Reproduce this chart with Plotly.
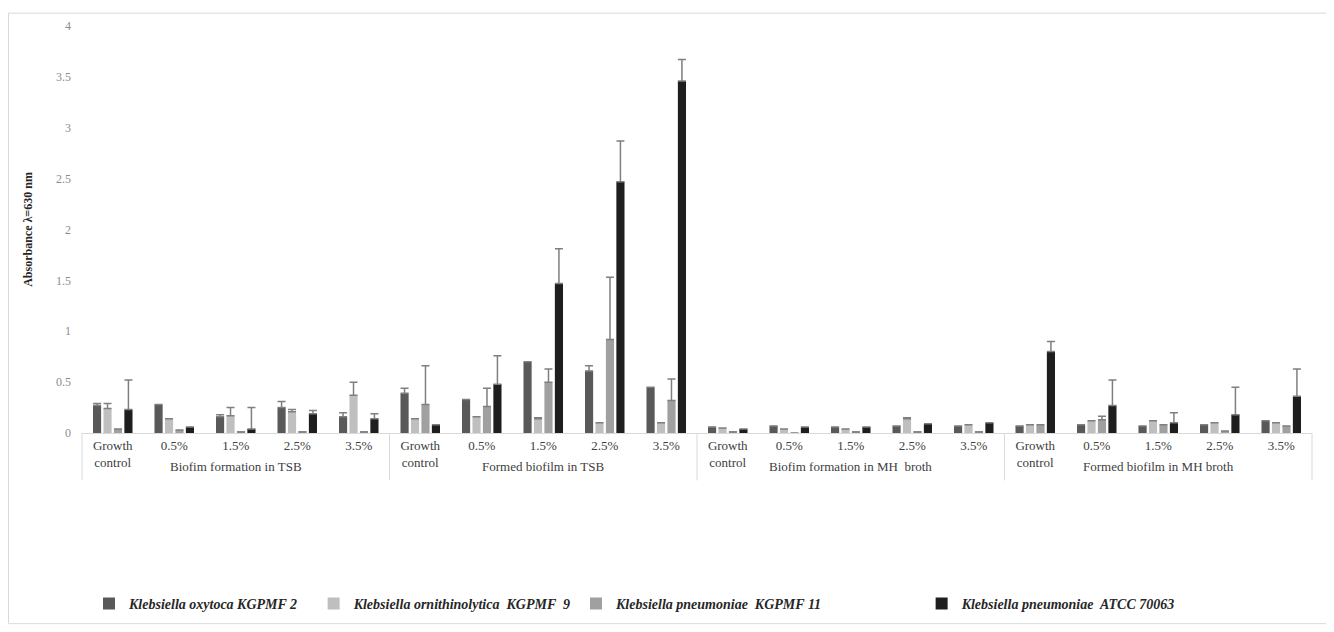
import plotly.graph_objects as go

groups = ["Biofim formation in TSB", "Formed biofilm in TSB",
          "Biofim formation in MH  broth", "Formed biofilm in MH broth"]
concentrations = ["Growth<br>control", "0.5%", "1.5%", "2.5%", "3.5%"]

series_names = [
    "Klebsiella oxytoca KGPMF 2",
    "Klebsiella ornithinolytica  KGPMF  9",
    "Klebsiella pneumoniae  KGPMF 11",
    "Klebsiella pneumoniae  ATCC 70063",
]
colors = ["#595959", "#bfbfbf", "#a0a0a0", "#1e1e1e"]

# values per series: 4 groups x 5 concentrations (flattened)
oxytoca = [0.27, 0.28, 0.16, 0.25, 0.16,
           0.39, 0.33, 0.70, 0.61, 0.45,
           0.06, 0.07, 0.06, 0.07, 0.07,
           0.07, 0.08, 0.07, 0.08, 0.12]
oxytoca_err = [0.02, 0.0, 0.02, 0.06, 0.04,
               0.05, 0.0, 0.0, 0.05, 0.0,
               0.0, 0.0, 0.0, 0.0, 0.0,
               0.0, 0.0, 0.0, 0.0, 0.0]
ornith = [0.24, 0.14, 0.17, 0.21, 0.37,
          0.14, 0.16, 0.14, 0.10, 0.10,
          0.05, 0.04, 0.04, 0.14, 0.08,
          0.08, 0.12, 0.12, 0.10, 0.10]
ornith_err = [0.05, 0.0, 0.08, 0.02, 0.13,
              0.0, 0.0, 0.01, 0.0, 0.0,
              0.0, 0.0, 0.0, 0.01, 0.0,
              0.0, 0.0, 0.0, 0.0, 0.0]
pneumo11 = [0.04, 0.03, 0.01, 0.01, 0.01,
            0.28, 0.26, 0.50, 0.92, 0.32,
            0.01, 0.0, 0.01, 0.01, 0.01,
            0.08, 0.13, 0.08, 0.02, 0.07]
pneumo11_err = [0.0, 0.0, 0.0, 0.0, 0.0,
                0.38, 0.18, 0.13, 0.61, 0.21,
                0.0, 0.0, 0.0, 0.0, 0.0,
                0.0, 0.035, 0.0, 0.0, 0.0]
atcc = [0.23, 0.06, 0.04, 0.19, 0.14,
        0.08, 0.48, 1.47, 2.47, 3.46,
        0.04, 0.06, 0.06, 0.09, 0.10,
        0.80, 0.27, 0.10, 0.18, 0.36]
atcc_err = [0.29, 0.0, 0.21, 0.03, 0.05,
            0.0, 0.28, 0.34, 0.40, 0.21,
            0.0, 0.0, 0.0, 0.0, 0.0,
            0.10, 0.25, 0.10, 0.27, 0.27]

values = [oxytoca, ornith, pneumo11, atcc]
errors = [oxytoca_err, ornith_err, pneumo11_err, atcc_err]

# unique category keys, with the concentration as the visible tick text
x_keys = [f"{g}|{c}" for g in groups for c in concentrations]
x_text = [c for _ in groups for c in concentrations]

# legend padding (non-breaking spaces) to reproduce the uneven spacing
legend_pad = [3, 0, 27, 0]

serif = "Liberation Serif, Times New Roman, serif"

fig = go.Figure()
for name, col, v, e, pad in zip(series_names, colors, values, errors, legend_pad):
    fig.add_trace(go.Bar(
        x=x_keys, y=v, name=name + "\u00a0" * pad,
        marker=dict(color=col, line=dict(width=0)),
        error_y=dict(type="data", symmetric=False, array=e,
                     arrayminus=[0] * len(e), color="#7f7f7f",
                     thickness=1.5, width=4),
    ))

W, H = 1326, 624
L, R, T, B = 74, 22, 18, 194
pw, ph = W - L - R, H - T - B

fig.update_layout(
    width=W, height=H,
    margin=dict(l=L, r=R, t=T, b=B),
    paper_bgcolor="white", plot_bgcolor="white",
    barmode="group", bargap=0.32, bargroupgap=0.22,
    font=dict(family=serif, size=13, color="#404040"),
    showlegend=True,
    legend=dict(orientation="h", x=(108 - 8 - L - 19) / pw, xanchor="left",
                y=-(613 - 10 - T - ph) / ph, yanchor="middle",
                font=dict(family=serif, size=14, color="#262626",
                          weight="bold", style="italic"),
                itemwidth=30, tracegroupgap=0),
    xaxis=dict(type="category", tickvals=x_keys, ticktext=x_text,
               showline=True, linecolor="#d9d9d9", linewidth=1,
               tickfont=dict(family=serif, size=13, color="#404040"),
               automargin=False, ticks="", showgrid=False),
    yaxis=dict(range=[0, 4], dtick=0.5, showgrid=False, zeroline=False,
               showline=False, automargin=False,
               tickfont=dict(family=serif, size=12, color="#8c8c8c"),
               ticklabelstandoff=10,
               title=dict(text="Absorbance λ=630 nm",
                          font=dict(family=serif, size=12, color="#262626",
                                    weight="bold"),
                          standoff=20)),
)

# group labels and dividers of the two-level category axis
n_groups = len(groups)
for i, g in enumerate(groups):
    fig.add_annotation(text=g, xref="paper", yref="paper",
                       x=(i + 0.5) / n_groups, y=-(470 - 436) / ph,
                       xanchor="center", yanchor="middle", showarrow=False,
                       font=dict(family=serif, size=13, color="#404040"))
for i in range(n_groups + 1):
    fig.add_shape(type="line", xref="paper", yref="paper",
                  x0=i / n_groups, x1=i / n_groups, y0=0,
                  y1=-(484 - 436) / ph,
                  line=dict(color="#d9d9d9", width=1))

# outer chart border
fig.add_shape(type="rect", xref="paper", yref="paper",
              x0=-(L - 0.5) / pw, x1=1 + (R - 1) / pw,
              y0=-(B - 1) / ph, y1=1 + (T - 5) / ph,
              line=dict(color="#d9d9d9", width=1))

fig.write_html("out.html")
